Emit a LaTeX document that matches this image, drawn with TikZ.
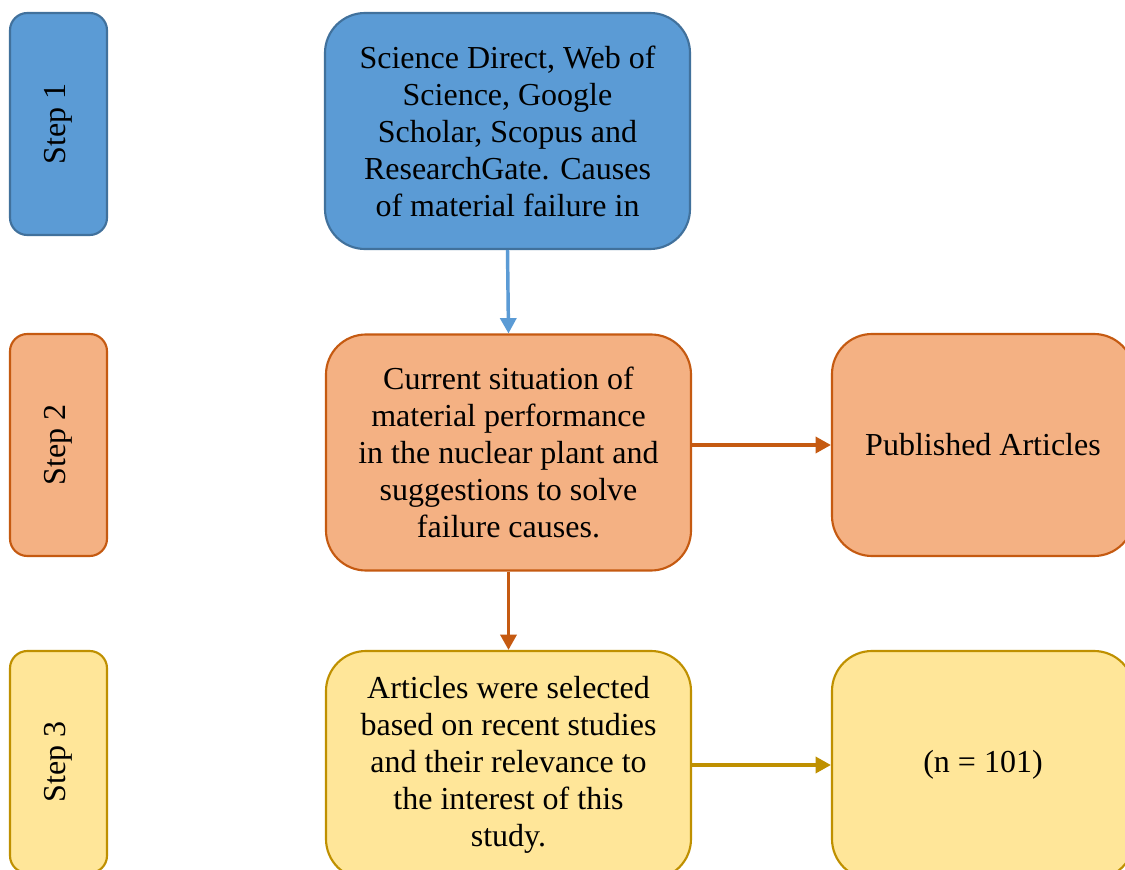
\documentclass[tikz,border=0pt]{standalone}
\usepackage{fontspec}
\setmainfont{Liberation Serif}
\usepackage{tikz}
\usetikzlibrary{positioning,calc}
\usetikzlibrary{arrows.meta}
\definecolor{StepBlue}{RGB}{91,155,213}
\definecolor{StepBlueLine}{RGB}{65,113,156}
\definecolor{StepOrange}{RGB}{244,177,131}
\definecolor{StepOrangeLine}{RGB}{197,90,17}
\definecolor{StepYellow}{RGB}{255,230,153}
\definecolor{StepYellowLine}{RGB}{191,144,0}
\tikzset{
  box/.style={rectangle,line width=1.6pt,inner sep=0pt,align=center,
    font=\fontsize{24}{27.75}\selectfont},
  stepbox/.style={box,minimum width=72.75pt,minimum height=166.5pt,rounded corners=13pt},
  mainbox/.style={box,minimum width=273.75pt,minimum height=177pt,rounded corners=30pt},
  sidebox/.style={box,minimum width=226.5pt,minimum height=166.5pt,rounded corners=30pt},
  flow/.style={line width=2.6pt,-{Triangle[length=11.5pt,width=12pt]}},
}

\begin{document}
\begin{tikzpicture}[x=0.75pt,y=-0.75pt]
  \useasboundingbox (0,0) rectangle (1125,870);
  \fill[white] (0,0) rectangle (1125,870);
  \clip (0,0) rectangle (1125,870);
  % step labels on the left
  \node[stepbox,draw=StepBlueLine,fill=StepBlue] (s1) at (58.5,124) {};
  \node[stepbox,draw=StepOrangeLine,fill=StepOrange] (s2) at (58.5,445) {};
  \node[stepbox,draw=StepYellowLine,fill=StepYellow] (s3) at (58.5,762) {};
  \foreach \s/\n in {s1/1,s2/2,s3/3}
    \node[box,rotate=90] at (\s) {Step \n};
  % main column
  \node[mainbox,draw=StepBlueLine,fill=StepBlue] (search) at (507.5,131)
    {Science Direct, Web of\\Science, Google\\Scholar, Scopus and\\ResearchGate. Causes\\of material failure in};
  \node[mainbox,draw=StepOrangeLine,fill=StepOrange] (situation) at (508.5,452.5)
    {Current situation of\\material performance\\in the nuclear plant and\\suggestions to solve\\failure causes.};
  \node[mainbox,draw=StepYellowLine,fill=StepYellow,minimum height=171pt] (selected) at (508.5,765)
    {Articles were selected\\based on recent studies\\and their relevance to\\the interest of this\\study.};
  % right column
  \node[sidebox,draw=StepOrangeLine,fill=StepOrange] (published) at (983,445) {Published Articles};
  \node[sidebox,draw=StepYellowLine,fill=StepYellow,minimum height=171pt] (count) at (983,765) {(n = 101)};
  % arrows
  \draw[flow,StepBlue] (search.south) -- (situation.north);
  \draw[flow,StepOrangeLine] (situation.south) -- (selected.north);
  \draw[flow,StepOrangeLine] (situation.east |- published.west) -- (published.west);
  \draw[flow,StepYellowLine] (selected.east |- count.west) -- (count.west);
\end{tikzpicture}
\end{document}
